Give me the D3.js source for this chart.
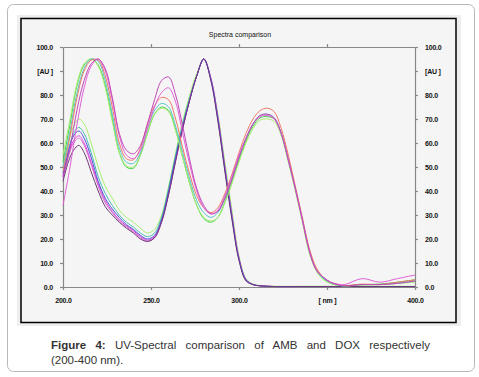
<!DOCTYPE html>
<html>
<head>
<meta charset="utf-8">
<script src="https://cdn.jsdelivr.net/npm/d3@7"></script>
<style>
  body { margin: 0; background: #fff; }
  svg { display: block; font-family: "Liberation Sans", Arial, sans-serif; }
</style>
</head>
<body>
<div id="chart-area"></div>
<script>
// wavelength grids (nm)
var waveA = [200,204,208,212,216,220,224,228,232,236,240,244,248,252,256,260,264,268,272,276,280,284,288,292,296,300,304,308,312,316,320,324,328,332,336,340,344,348,352,356,360,370,380,390,400];
var waveB = [200,203,206,209,212,216,220,224,228,232,236,240,244,248,252,256,260,264,268,272,276,280,284,288,292,296,300,304,308,312,320,340,360,380,400];

// first family (peaks ~218, ~258, ~315 nm)
var aMagenta = [46,58,74,86,93,95,91,79,64,57,55.5,59,68,78,86,87.5,80,67,53,41,34,30.5,31.5,37,45,54,62,68,71.5,72,70.5,64,53,41,28,15,7,4,2,1,0.5,1,1,1.5,2.5];
var aPink    = [34,50,68,83,92,95,90,78,63,55,53.5,57,66,75,81,83,77,64,51,40,33,30.5,32,38,46,55,62,68,71,71.5,70,64,53,41,28,15,7,4,2,1.2,1,3.5,2,3.5,5];
var aSalmon  = [48,63,79,90,94.5,94.5,88,75,60,53.5,53,58,68,75.5,79,78,70,58,47,38,33,31,33,39,47,56,64,70,73.5,74.5,73,66,55,42,29,16,8,4,2,1,0.6,1.2,1,2,3];
var aTeal    = [50,65,81,91,95,94,86,72,58,52,51.5,56,66,73.5,76.5,75,67,56,45,36,31,29,31,37,45,54,62,68,71.5,72,70.5,64,53,41,28,15,7,3.5,1.8,0.8,0.5,1,1,1.5,2.5];
var aLime    = [55,70,85,93,95,92,83,69,56,50.5,50,55,64,72,74.5,73,65,54,43,34,29,27.5,29,35,43,52,60,66,69.5,70,69,63,52,40,27,14,6.5,3,1.5,0.8,0.5,0.8,1,1.5,2];
var aGreen   = [52,68,84,92.5,95,92.5,84,70,56,50,49.5,55,64,72,75,73.5,65.5,54,43,34,28.5,27,29,35.5,44,53,61,67,70.5,71,70,64,53,41,28,14.5,7,3.5,1.5,0.8,0.5,1,1.2,2,3];

// second family (peaks ~209, ~280 nm)
var bLime    = [50,60,67,70,68,60,50,42,37,32,29,27,24.5,22.5,24,30,42,56,69,80,89,95,87,72,52,32,13,3.5,1.2,0.5,0.3,0.3,0.3,0.3,0.3];
var bTeal    = [48,57,64,66.5,64,56,46,39,34,30,27,25,22.5,21,22.5,29,41,55,68,79,88,95,87,71,50,30,12,3,1,0.5,0.2,0.2,0.2,0.2,0.2];
var bBlue    = [47,56,63,65,62,54,44,37,32.5,29,26,24,21.5,20,21.5,28,40,54,67,78,88,95,86.5,70,49,29,11.5,3,1,0.5,0.2,0.2,0.2,0.2,0.2];
var bMagenta = [46,55,61,63,60,52,43,36,31.5,28,25.5,23.5,21,19.5,21,27.5,39,53,66,78,88,95,87,70.5,49.5,29.5,12,3,1,0.5,0.2,0.2,0.2,0.2,0.2];
var bPink    = [45,54,60,62,59,51,42,35,31,27.5,25,23,20.5,19,20.5,27,38.5,52.5,66,78,88,95,87,71,50,30,12,3,1,0.5,0.2,0.2,0.2,0.2,0.2];
var bPurple  = [44,52,57,59,56,48,40,33.5,30,27,24.5,22.5,20,19,20.5,27,38.5,52.5,66,78,88,95,86,69,48,28,11,2.5,1,0.5,0.2,0.2,0.2,0.2,0.2];

var yTicks = [0,10,20,30,40,50,60,70,80,90,100];
var yLabels = ["0.0","10.0","20.0","30.0","40.0","50.0","60.0","70.0","80.0","[AU ]","100.0"];
var xTicks = [200,250,300,350,400];
var xLabels = ["200.0","250.0","300.0","[ nm ]","400.0"];

var seriesList = [
  {wave: waveB, values: bLime,    color: "#a8f070"},
  {wave: waveB, values: bTeal,    color: "#48bcb0"},
  {wave: waveB, values: bPink,    color: "#d878c8"},
  {wave: waveB, values: bMagenta, color: "#e040e0"},
  {wave: waveB, values: bBlue,    color: "#5050d8"},
  {wave: waveB, values: bPurple,  color: "#6a3a78"},
  {wave: waveA, values: aGreen,   color: "#44d044"},
  {wave: waveA, values: aLime,    color: "#a8f070"},
  {wave: waveA, values: aTeal,    color: "#58c4c8"},
  {wave: waveA, values: aSalmon,  color: "#f07868"},
  {wave: waveA, values: aPink,    color: "#e060d8"},
  {wave: waveA, values: aMagenta, color: "#c048b8"}
];

var W = 479, H = 377;
var margin = {top: 47, left: 63, right: 64, bottom: 90};
var width = W - margin.left - margin.right;   // 352
var height = H - margin.top - margin.bottom;  // 240

var svg = d3.select("#chart-area")
  .append("svg")
  .attr("width", W)
  .attr("height", H);

// outer card
svg.append("rect")
  .attr("x", 7.5).attr("y", 4.5)
  .attr("width", 467).attr("height", 367)
  .attr("rx", 6)
  .attr("fill", "#fff")
  .attr("stroke", "#b8b8b8");

svg.append("rect")
  .attr("x", 17).attr("y", 15)
  .attr("width", 444).attr("height", 311)
  .attr("fill", "#eeeeee");

// black frame of the picture
svg.append("rect")
  .attr("x", 21).attr("y", 18.5)
  .attr("width", 435).attr("height", 304)
  .attr("fill", "#f5f5f5")
  .attr("stroke", "#000")
  .attr("stroke-width", 1.5);

svg.append("text")
  .attr("x", 240).attr("y", 37)
  .attr("text-anchor", "middle")
  .attr("font-size", 7)
  .attr("fill", "#111")
  .text("Spectra comparison");

var g = svg.append("g")
  .attr("transform", "translate(" + margin.left + "," + margin.top + ")");

var x = d3.scaleLinear().domain([200, 400]).range([0, width]);
var y = d3.scaleLinear().domain([0, 100]).range([height, 0]);

var axisColor = "#888";

function styleAxis(sel) {
  sel.select(".domain").attr("stroke", axisColor).attr("stroke-width", 1.2);
  sel.selectAll(".tick line").attr("stroke", axisColor).attr("stroke-width", 1.2);
  sel.selectAll(".tick text")
    .attr("fill", "#111")
    .attr("font-size", 7)
    .attr("font-family", "'Liberation Sans', Arial, sans-serif")
    .attr("font-weight", "bold")
    .attr("letter-spacing", -0.2);
}

var xAxis = d3.axisBottom(x)
  .tickValues(xTicks)
  .tickSize(3).tickSizeOuter(0).tickPadding(8)
  .tickFormat(function(d, i) { return xLabels[i]; });
g.append("g")
  .attr("transform", "translate(0," + height + ")")
  .call(xAxis)
  .call(styleAxis);

var xTop = d3.axisTop(x)
  .tickValues([250, 300, 350])
  .tickSize(3).tickSizeOuter(0)
  .tickFormat("");
g.append("g").call(xTop).call(styleAxis);

var yAxis = d3.axisLeft(y)
  .tickValues(yTicks)
  .tickSize(3).tickSizeOuter(0).tickPadding(7)
  .tickFormat(function(d, i) { return yLabels[i]; });
g.append("g").call(yAxis).call(styleAxis);

var yRight = d3.axisRight(y)
  .tickValues(yTicks)
  .tickSize(3).tickSizeOuter(0).tickPadding(7)
  .tickFormat(function(d, i) { return yLabels[i]; });
g.append("g")
  .attr("transform", "translate(" + width + ",0)")
  .call(yRight)
  .call(styleAxis);

// spectra
var line = d3.line()
  .x(function(d) { return x(d[0]); })
  .y(function(d) { return y(d[1]); })
  .curve(d3.curveCatmullRom.alpha(0.5));

g.selectAll(".spectrum")
  .data(seriesList)
  .enter()
  .append("path")
    .attr("class", "spectrum")
    .attr("fill", "none")
    .attr("stroke", function(s) { return s.color; })
    .attr("stroke-width", 1)
    .attr("d", function(s) {
      return line(s.wave.map(function(w, i) { return [w, s.values[i]]; }));
    });

// caption, first line justified
var cap1 = svg.append("text")
  .attr("x", 51).attr("y", 349)
  .attr("font-size", 11.5)
  .attr("fill", "#333");
cap1.append("tspan").attr("font-weight", "bold").text("Figure 4:");
cap1.append("tspan").text(" UV-Spectral comparison of AMB and DOX respectively");

var natural = cap1.node().getComputedTextLength();
var spaces = 8;
cap1.attr("word-spacing", (379 - natural) / spaces);

svg.append("text")
  .attr("x", 51).attr("y", 364)
  .attr("font-size", 11.5)
  .attr("fill", "#333")
  .text("(200-400 nm).");
</script>
</body>
</html>
